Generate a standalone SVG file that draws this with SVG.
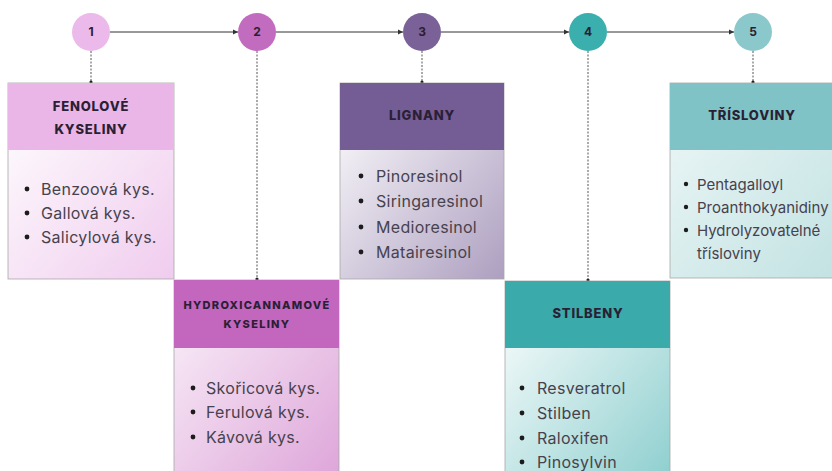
<svg xmlns="http://www.w3.org/2000/svg" width="832" height="471" viewBox="0 0 832 471">
<style>
.num{font-family:Inter,"Liberation Sans",sans-serif;font-weight:700;font-size:12px;fill:#2b2033;text-anchor:middle}
.hd{font-family:Inter,"Liberation Sans",sans-serif;font-weight:800;font-size:13px;letter-spacing:0.8px;fill:#2a1f35;text-anchor:middle}
.it{font-family:Inter,"Liberation Sans",sans-serif;font-size:16px;letter-spacing:0.3px;fill:#47424d}
.it5{font-size:15px;letter-spacing:0px}
.bl{fill:#1c1c1c}
.con{stroke:#333;stroke-width:1;fill:none}
.dash{stroke:#555;stroke-width:1;stroke-dasharray:2 1.5;fill:none}
.bd{stroke:#a8a8a8;stroke-width:0.8}
</style>
<defs>
<marker id="ah" markerWidth="6" markerHeight="6" refX="5" refY="3" orient="auto" markerUnits="userSpaceOnUse"><path d="M0,0.5 L5,3 L0,5.5 z" fill="#333"/></marker>
<marker id="dot" markerWidth="4" markerHeight="4" refX="2" refY="2" markerUnits="userSpaceOnUse"><circle cx="2" cy="2" r="1.6" fill="#222"/></marker>
<linearGradient id="g1" x1="0" y1="0" x2="1" y2="1"><stop offset="0" stop-color="#ffffff"/><stop offset="1" stop-color="#f0ccee"/></linearGradient>
<linearGradient id="g2" x1="0" y1="0" x2="1" y2="1"><stop offset="0" stop-color="#fbf3fa"/><stop offset="1" stop-color="#dea6da"/></linearGradient>
<linearGradient id="g3" x1="0" y1="0" x2="1" y2="1"><stop offset="0" stop-color="#ffffff"/><stop offset="1" stop-color="#ad9fc0"/></linearGradient>
<linearGradient id="g4" x1="0" y1="0" x2="1" y2="1"><stop offset="0" stop-color="#ffffff"/><stop offset="1" stop-color="#8fcfcf"/></linearGradient>
<linearGradient id="g5" x1="0" y1="0" x2="1" y2="1"><stop offset="0" stop-color="#eef7f7"/><stop offset="1" stop-color="#c2e2e2"/></linearGradient>
</defs>
<rect width="832" height="471" fill="#ffffff"/>
<g id="connectors">
<line class="con" x1="110" y1="32" x2="238" y2="32" marker-end="url(#ah)"/>
<line class="con" x1="276" y1="32" x2="403" y2="32" marker-end="url(#ah)"/>
<line class="con" x1="441" y1="32" x2="569" y2="32" marker-end="url(#ah)"/>
<line class="con" x1="607" y1="32" x2="734" y2="32" marker-end="url(#ah)"/>
<line class="dash" x1="91" y1="51" x2="91" y2="82" marker-end="url(#dot)"/>
<line class="dash" x1="257" y1="51" x2="257" y2="279" marker-end="url(#dot)"/>
<line class="dash" x1="422" y1="51" x2="422" y2="82" marker-end="url(#dot)"/>
<line class="dash" x1="588" y1="51" x2="588" y2="280" marker-end="url(#dot)"/>
<line class="dash" x1="753" y1="51" x2="753" y2="82" marker-end="url(#dot)"/>
</g>
<g id="c1"><circle cx="91" cy="32" r="19" fill="#ebb9ea"/><text class="num" x="91" y="36">1</text></g>
<g id="c2"><circle cx="257" cy="32" r="19" fill="#c26cc0"/><text class="num" x="257" y="36">2</text></g>
<g id="c3"><circle cx="422" cy="32" r="19" fill="#7a6299"/><text class="num" x="422" y="36">3</text></g>
<g id="c4"><circle cx="588" cy="32" r="19" fill="#3aafad"/><text class="num" x="588" y="36">4</text></g>
<g id="c5"><circle cx="753" cy="32" r="19" fill="#8bc8cb"/><text class="num" x="753" y="36">5</text></g>
<g id="box1">
<rect class="bd" x="8" y="83" width="166" height="196" fill="url(#g1)"/>
<rect x="8" y="83" width="166" height="67" fill="#eab6e8"/>
<text class="hd" x="91" y="111">FENOLOVÉ</text>
<text class="hd" x="91" y="134">KYSELINY</text>
<circle class="bl" cx="27" cy="189" r="2.4"/><text class="it" x="41" y="195">Benzoová kys.</text>
<circle class="bl" cx="27" cy="213" r="2.4"/><text class="it" x="41" y="219">Gallová kys.</text>
<circle class="bl" cx="27" cy="237" r="2.4"/><text class="it" x="41" y="243">Salicylová kys.</text>
</g>
<g id="box2">
<rect class="bd" x="174" y="280" width="165" height="195" fill="url(#g2)"/>
<rect x="174" y="280" width="165" height="68" fill="#c266be"/>
<text class="hd" x="257" y="309" style="font-size:11px;letter-spacing:1.3px">HYDROXICANNAMOVÉ</text>
<text class="hd" x="257" y="328" style="font-size:11px;letter-spacing:1.3px">KYSELINY</text>
<circle class="bl" cx="193" cy="388" r="2.4"/><text class="it" x="206" y="394">Skořicová kys.</text>
<circle class="bl" cx="193" cy="412" r="2.4"/><text class="it" x="206" y="418">Ferulová kys.</text>
<circle class="bl" cx="193" cy="437" r="2.4"/><text class="it" x="206" y="443">Kávová kys.</text>
</g>
<g id="box3">
<rect class="bd" x="340" y="83" width="164" height="196" fill="url(#g3)"/>
<rect x="340" y="83" width="164" height="67" fill="#745c95"/>
<text class="hd" x="422" y="120">LIGNANY</text>
<circle class="bl" cx="361" cy="176" r="2.4"/><text class="it" x="376" y="182">Pinoresinol</text>
<circle class="bl" cx="361" cy="201" r="2.4"/><text class="it" x="376" y="207">Siringaresinol</text>
<circle class="bl" cx="361" cy="227" r="2.4"/><text class="it" x="376" y="233">Medioresinol</text>
<circle class="bl" cx="361" cy="252" r="2.4"/><text class="it" x="376" y="258">Matairesinol</text>
</g>
<g id="box4">
<rect class="bd" x="505" y="281" width="165" height="195" fill="url(#g4)"/>
<rect x="505" y="281" width="165" height="67" fill="#3aabaa"/>
<text class="hd" x="588" y="318">STILBENY</text>
<circle class="bl" cx="522" cy="388" r="2.4"/><text class="it" x="537" y="394">Resveratrol</text>
<circle class="bl" cx="522" cy="413" r="2.4"/><text class="it" x="537" y="419">Stilben</text>
<circle class="bl" cx="522" cy="438" r="2.4"/><text class="it" x="537" y="444">Raloxifen</text>
<circle class="bl" cx="522" cy="462" r="2.4"/><text class="it" x="537" y="468">Pinosylvin</text>
</g>
<g id="box5">
<rect class="bd" x="670" y="83" width="170" height="195" fill="url(#g5)"/>
<rect x="670" y="83" width="170" height="67" fill="#7fc3c6"/>
<text class="hd" x="752" y="120">TŘÍSLOVINY</text>
<circle class="bl" cx="686" cy="184" r="2.2"/><text class="it it5" x="697" y="190">Pentagalloyl</text>
<circle class="bl" cx="686" cy="207" r="2.2"/><text class="it it5" x="697" y="213">Proanthokyanidiny</text>
<circle class="bl" cx="686" cy="230" r="2.2"/><text class="it it5" x="697" y="236">Hydrolyzovatelné</text>
<text class="it it5" x="697" y="259">třísloviny</text>
</g>
</svg>
